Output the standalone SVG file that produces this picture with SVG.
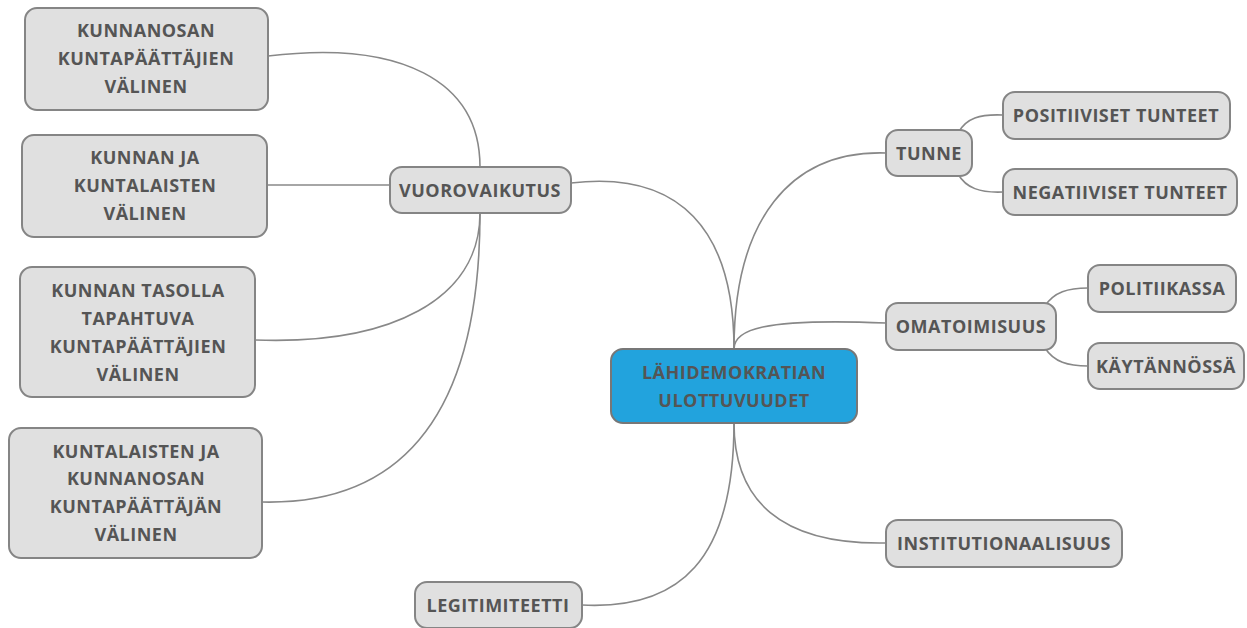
<svg xmlns="http://www.w3.org/2000/svg" width="1247" height="628" viewBox="0 0 1247 628">
<style>
.n{fill:#e0e0e0;stroke:#858585;stroke-width:2}
.c{fill:#22a3dd;stroke:#777;stroke-width:2}
.t{font-family:"Open Sans","Noto Sans",sans-serif;font-weight:bold;font-size:18px;letter-spacing:0.5px;fill:#555;text-anchor:middle}
.e{fill:none;stroke:#888;stroke-width:1.6}
</style>
<rect width="1247" height="628" fill="#fff"/>
<g id="connectors">
<path class="e" d="M480,167 C480,80 400,40 268,56"/>
<path class="e" d="M267,185 L390,185"/>
<path class="e" d="M480,213 C480,300 390,345 255,340"/>
<path class="e" d="M480,213 C480,430 390,505 262,502"/>
<path class="e" d="M734,349 C734,230 680,170 571,183"/>
<path class="e" d="M734,349 C734,220 790,150 886,153"/>
<path class="e" d="M734,349 C734,330 760,318 886,323"/>
<path class="e" d="M734,423 C734,500 780,545 886,543"/>
<path class="e" d="M734,423 C734,560 680,610 582,605"/>
<path class="e" d="M958,133 C966,118 980,114 1003,115"/>
<path class="e" d="M958,174 C966,188 980,193 1003,192"/>
<path class="e" d="M1045,306 C1054,292 1068,288 1088,288"/>
<path class="e" d="M1045,348 C1054,362 1068,366 1088,366"/>
</g>
<g id="center">
<rect class="c" x="611" y="349" width="246" height="74" rx="12"/>
<text class="t" x="734" y="379">LÄHIDEMOKRATIAN</text>
<text class="t" x="734" y="407">ULOTTUVUUDET</text>
</g>
<g id="vuorovaikutus">
<rect class="n" x="390" y="167" width="181" height="46" rx="12"/>
<text class="t" x="480" y="197">VUOROVAIKUTUS</text>
</g>
<g id="kunnanosan">
<rect class="n" x="25" y="8" width="243" height="102" rx="12"/>
<text class="t" x="146" y="37">KUNNANOSAN</text>
<text class="t" x="146" y="65">KUNTAPÄÄTTÄJIEN</text>
<text class="t" x="146" y="93">VÄLINEN</text>
</g>
<g id="kunnan-ja">
<rect class="n" x="22" y="135" width="245" height="102" rx="12"/>
<text class="t" x="145" y="164">KUNNAN JA</text>
<text class="t" x="145" y="192">KUNTALAISTEN</text>
<text class="t" x="145" y="220">VÄLINEN</text>
</g>
<g id="kunnan-tasolla">
<rect class="n" x="20" y="267" width="235" height="130" rx="12"/>
<text class="t" x="138" y="297">KUNNAN TASOLLA</text>
<text class="t" x="138" y="325">TAPAHTUVA</text>
<text class="t" x="138" y="353">KUNTAPÄÄTTÄJIEN</text>
<text class="t" x="138" y="381">VÄLINEN</text>
</g>
<g id="kuntalaisten">
<rect class="n" x="9" y="428" width="253" height="130" rx="12"/>
<text class="t" x="136" y="458">KUNTALAISTEN JA</text>
<text class="t" x="136" y="485">KUNNANOSAN</text>
<text class="t" x="136" y="513">KUNTAPÄÄTTÄJÄN</text>
<text class="t" x="136" y="541">VÄLINEN</text>
</g>
<g id="tunne">
<rect class="n" x="886" y="130" width="86" height="46" rx="12"/>
<text class="t" x="929" y="160">TUNNE</text>
</g>
<g id="positiiviset">
<rect class="n" x="1003" y="92" width="227" height="47" rx="12"/>
<text class="t" x="1116" y="122">POSITIIVISET TUNTEET</text>
</g>
<g id="negatiiviset">
<rect class="n" x="1003" y="169" width="234" height="46" rx="12"/>
<text class="t" x="1120" y="199">NEGATIIVISET TUNTEET</text>
</g>
<g id="omatoimisuus">
<rect class="n" x="886" y="303" width="170" height="47" rx="12"/>
<text class="t" x="971" y="333">OMATOIMISUUS</text>
</g>
<g id="politiikassa">
<rect class="n" x="1088" y="265" width="148" height="47" rx="12"/>
<text class="t" x="1162" y="295">POLITIIKASSA</text>
</g>
<g id="kaytannossa">
<rect class="n" x="1088" y="343" width="156" height="46" rx="12"/>
<text class="t" x="1166" y="373">KÄYTÄNNÖSSÄ</text>
</g>
<g id="institutionaalisuus">
<rect class="n" x="886" y="520" width="236" height="47" rx="12"/>
<text class="t" x="1004" y="550">INSTITUTIONAALISUUS</text>
</g>
<g id="legitimiteetti">
<rect class="n" x="415" y="582" width="167" height="46" rx="12"/>
<text class="t" x="498" y="612">LEGITIMITEETTI</text>
</g>
</svg>
